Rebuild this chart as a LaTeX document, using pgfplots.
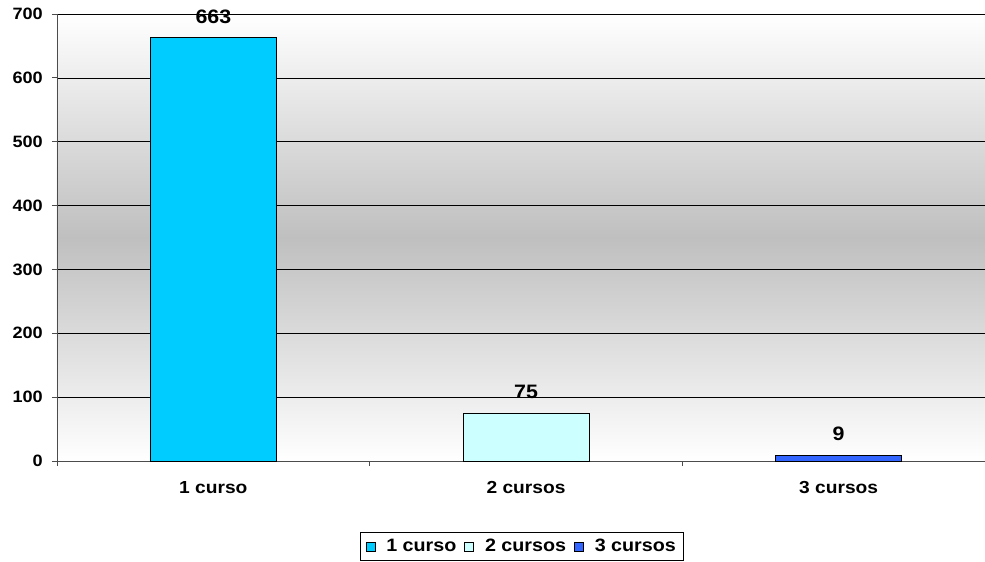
\documentclass[border=0pt]{standalone}
\usepackage{fontspec}
\setmainfont{Liberation Sans}[FakeStretch=1.1]
\usepackage{pgfplots}
\pgfplotsset{compat=1.18}
\definecolor{c1}{RGB}{0,204,255}
\definecolor{c2}{RGB}{204,255,255}
\definecolor{c3}{RGB}{51,102,255}

\begin{document}
\begin{tikzpicture}
\useasboundingbox (-57bp,-101bp) rectangle (928bp,461bp);
\begin{axis}[
  at={(0,0)}, anchor=south west,
  scale only axis, width=938bp, height=447bp,
  xmin=-0.5, xmax=2.5, ymin=0, ymax=700,
  axis x line*=bottom, axis y line*=left,
  axis line style={black!70, line width=0.8pt, -},
  axis background/.style={top color=white, bottom color=white, middle color=black!25},
  ybar, bar width=0.403, bar shift=0pt,
  xtick={0,1,2}, xticklabels={1 curso, 2 cursos, 3 cursos},
  major x tick style={draw=none},
  minor xtick={-0.5,0.5,1.5},
  ytick={0,100,...,700},
  ymajorgrids, grid style={black, line width=0.6pt},
  tick align=outside, major tick length=5bp, minor tick length=5bp,
  tick style={black!70, line width=0.8pt},
  /pgf/number format/assume math mode=true,
  yticklabel style={font=\bfseries\fontsize{16.5}{16.5}\selectfont, inner sep=0pt, xshift=-9bp},
  xticklabel style={font=\bfseries\fontsize{17.5}{17.5}\selectfont, inner sep=0pt, anchor=north, yshift=-15bp},
  nodes near coords,
  nodes near coords style={font=\bfseries\fontsize{19.5}{19.5}\selectfont, anchor=south, inner sep=0pt, yshift=14bp},
  legend style={at={(0.4955,-0.159)}, anchor=north, legend columns=-1, draw=black, line width=0.6pt,
    font=\bfseries\fontsize{18}{18}\selectfont, inner xsep=5bp, inner ysep=3bp,
    nodes={inner xsep=2bp, inner ysep=4bp},
    /tikz/every odd column/.append style={column sep=9bp},
    /tikz/every even column/.append style={column sep=6bp}},
  legend image code/.code={\draw[#1, draw=black, line width=0.6pt] (0bp,-4.5bp) rectangle (9bp,4.5bp);},
]
\addplot[fill=c1, draw=black, line width=0.8pt] coordinates {(0,663)};
\addplot[fill=c2, draw=black, line width=0.8pt] coordinates {(1,75)};
\addplot[fill=c3, draw=black, line width=0.8pt] coordinates {(2,9)};
\legend{1 curso, 2 cursos, 3 cursos}
\end{axis}
\end{tikzpicture}
\end{document}
